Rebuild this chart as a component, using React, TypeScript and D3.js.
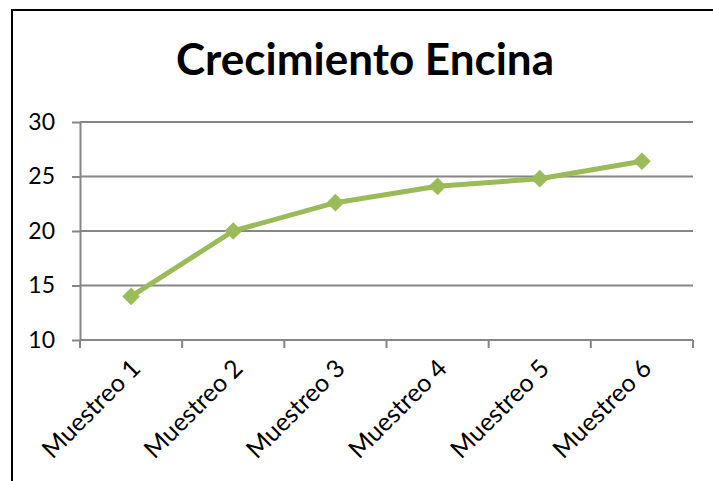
import React, { useEffect, useRef } from "react";
import * as d3 from "d3";

const categories = ["Muestreo 1", "Muestreo 2", "Muestreo 3", "Muestreo 4", "Muestreo 5", "Muestreo 6"];
const values = [14.0, 20.0, 22.6, 24.1, 24.8, 26.4];
const yTicks = [10, 15, 20, 25, 30];
const title = "Crecimiento Encina";

const App = () => {
  const svgRef = useRef<SVGSVGElement>(null);

  useEffect(() => {
    const svg = d3.select(svgRef.current);
    svg.selectAll("*").remove();

    const width = 713;
    const height = 481;
    const margin = { top: 122, right: 20, bottom: 141, left: 80 };
    const green = "#9BBB59";
    const grid = "#868686";
    const font = "Lato, 'Open Sans', sans-serif";

    // outer frame (only top and left edges fall inside the picture)
    svg.append("rect")
      .attr("x", 12).attr("y", 10)
      .attr("width", 740).attr("height", 520)
      .attr("fill", "white")
      .attr("stroke", "black")
      .attr("stroke-width", 2);

    svg.append("text")
      .attr("x", 365).attr("y", 75)
      .attr("text-anchor", "middle")
      .attr("font-family", font)
      .attr("font-weight", "bold")
      .attr("font-size", 44)
      .text(title);

    const x = d3.scaleBand().domain(categories).range([margin.left, width - margin.right]);
    const y = d3.scaleLinear().domain([10, 30]).range([height - margin.bottom, margin.top]);

    // horizontal gridlines
    svg.append("g")
      .selectAll("line")
      .data(yTicks.slice(1))
      .join("line")
      .attr("x1", margin.left).attr("x2", width - margin.right)
      .attr("y1", d => y(d)).attr("y2", d => y(d))
      .attr("stroke", grid).attr("stroke-width", 2);

    // y axis
    const yAxis = svg.append("g")
      .attr("transform", `translate(${margin.left},0)`)
      .call(d3.axisLeft(y).tickValues(yTicks).tickSize(8).tickPadding(17).tickSizeOuter(0));
    yAxis.select(".domain").attr("stroke", grid).attr("stroke-width", 2);
    yAxis.selectAll(".tick line").attr("stroke", grid).attr("stroke-width", 2);
    yAxis.selectAll("text")
      .attr("font-family", font)
      .attr("font-size", 23)
      .attr("fill", "black");

    // x axis
    const xAxis = svg.append("g")
      .attr("transform", `translate(0,${height - margin.bottom})`);
    xAxis.append("line")
      .attr("x1", margin.left).attr("x2", width - margin.right)
      .attr("stroke", grid).attr("stroke-width", 2);
    const edges = [...categories.map(c => x(c) as number), width - margin.right];
    xAxis.selectAll("line.tk")
      .data(edges)
      .join("line")
      .attr("class", "tk")
      .attr("x1", d => d).attr("x2", d => d)
      .attr("y1", 0).attr("y2", 8)
      .attr("stroke", grid).attr("stroke-width", 2);
    xAxis.selectAll("text")
      .data(categories)
      .join("text")
      .attr("transform", d => `translate(${(x(d) as number) + x.bandwidth() / 2 + 11},${30}) rotate(-45)`)
      .attr("text-anchor", "end")
      .attr("font-family", font)
      .attr("font-size", 25)
      .text(d => d);

    const cx = (d: string) => (x(d) as number) + x.bandwidth() / 2;

    svg.append("path")
      .datum(values)
      .attr("fill", "none")
      .attr("stroke", green)
      .attr("stroke-width", 5)
      .attr("stroke-linejoin", "round")
      .attr("d", d3.line<number>()
        .x((_, i) => cx(categories[i]))
        .y(d => y(d)));

    svg.append("g")
      .selectAll("path")
      .data(values)
      .join("path")
      .attr("transform", (d, i) => `translate(${cx(categories[i])},${y(d)})`)
      .attr("d", d3.symbol(d3.symbolDiamond2, 200)())
      .attr("fill", green);
  }, []);

  return (
    <svg
      ref={svgRef}
      width={713}
      height={481}
      style={{ position: "absolute", left: 0, top: 0, background: "white" }}
    />
  );
};

export default App;
